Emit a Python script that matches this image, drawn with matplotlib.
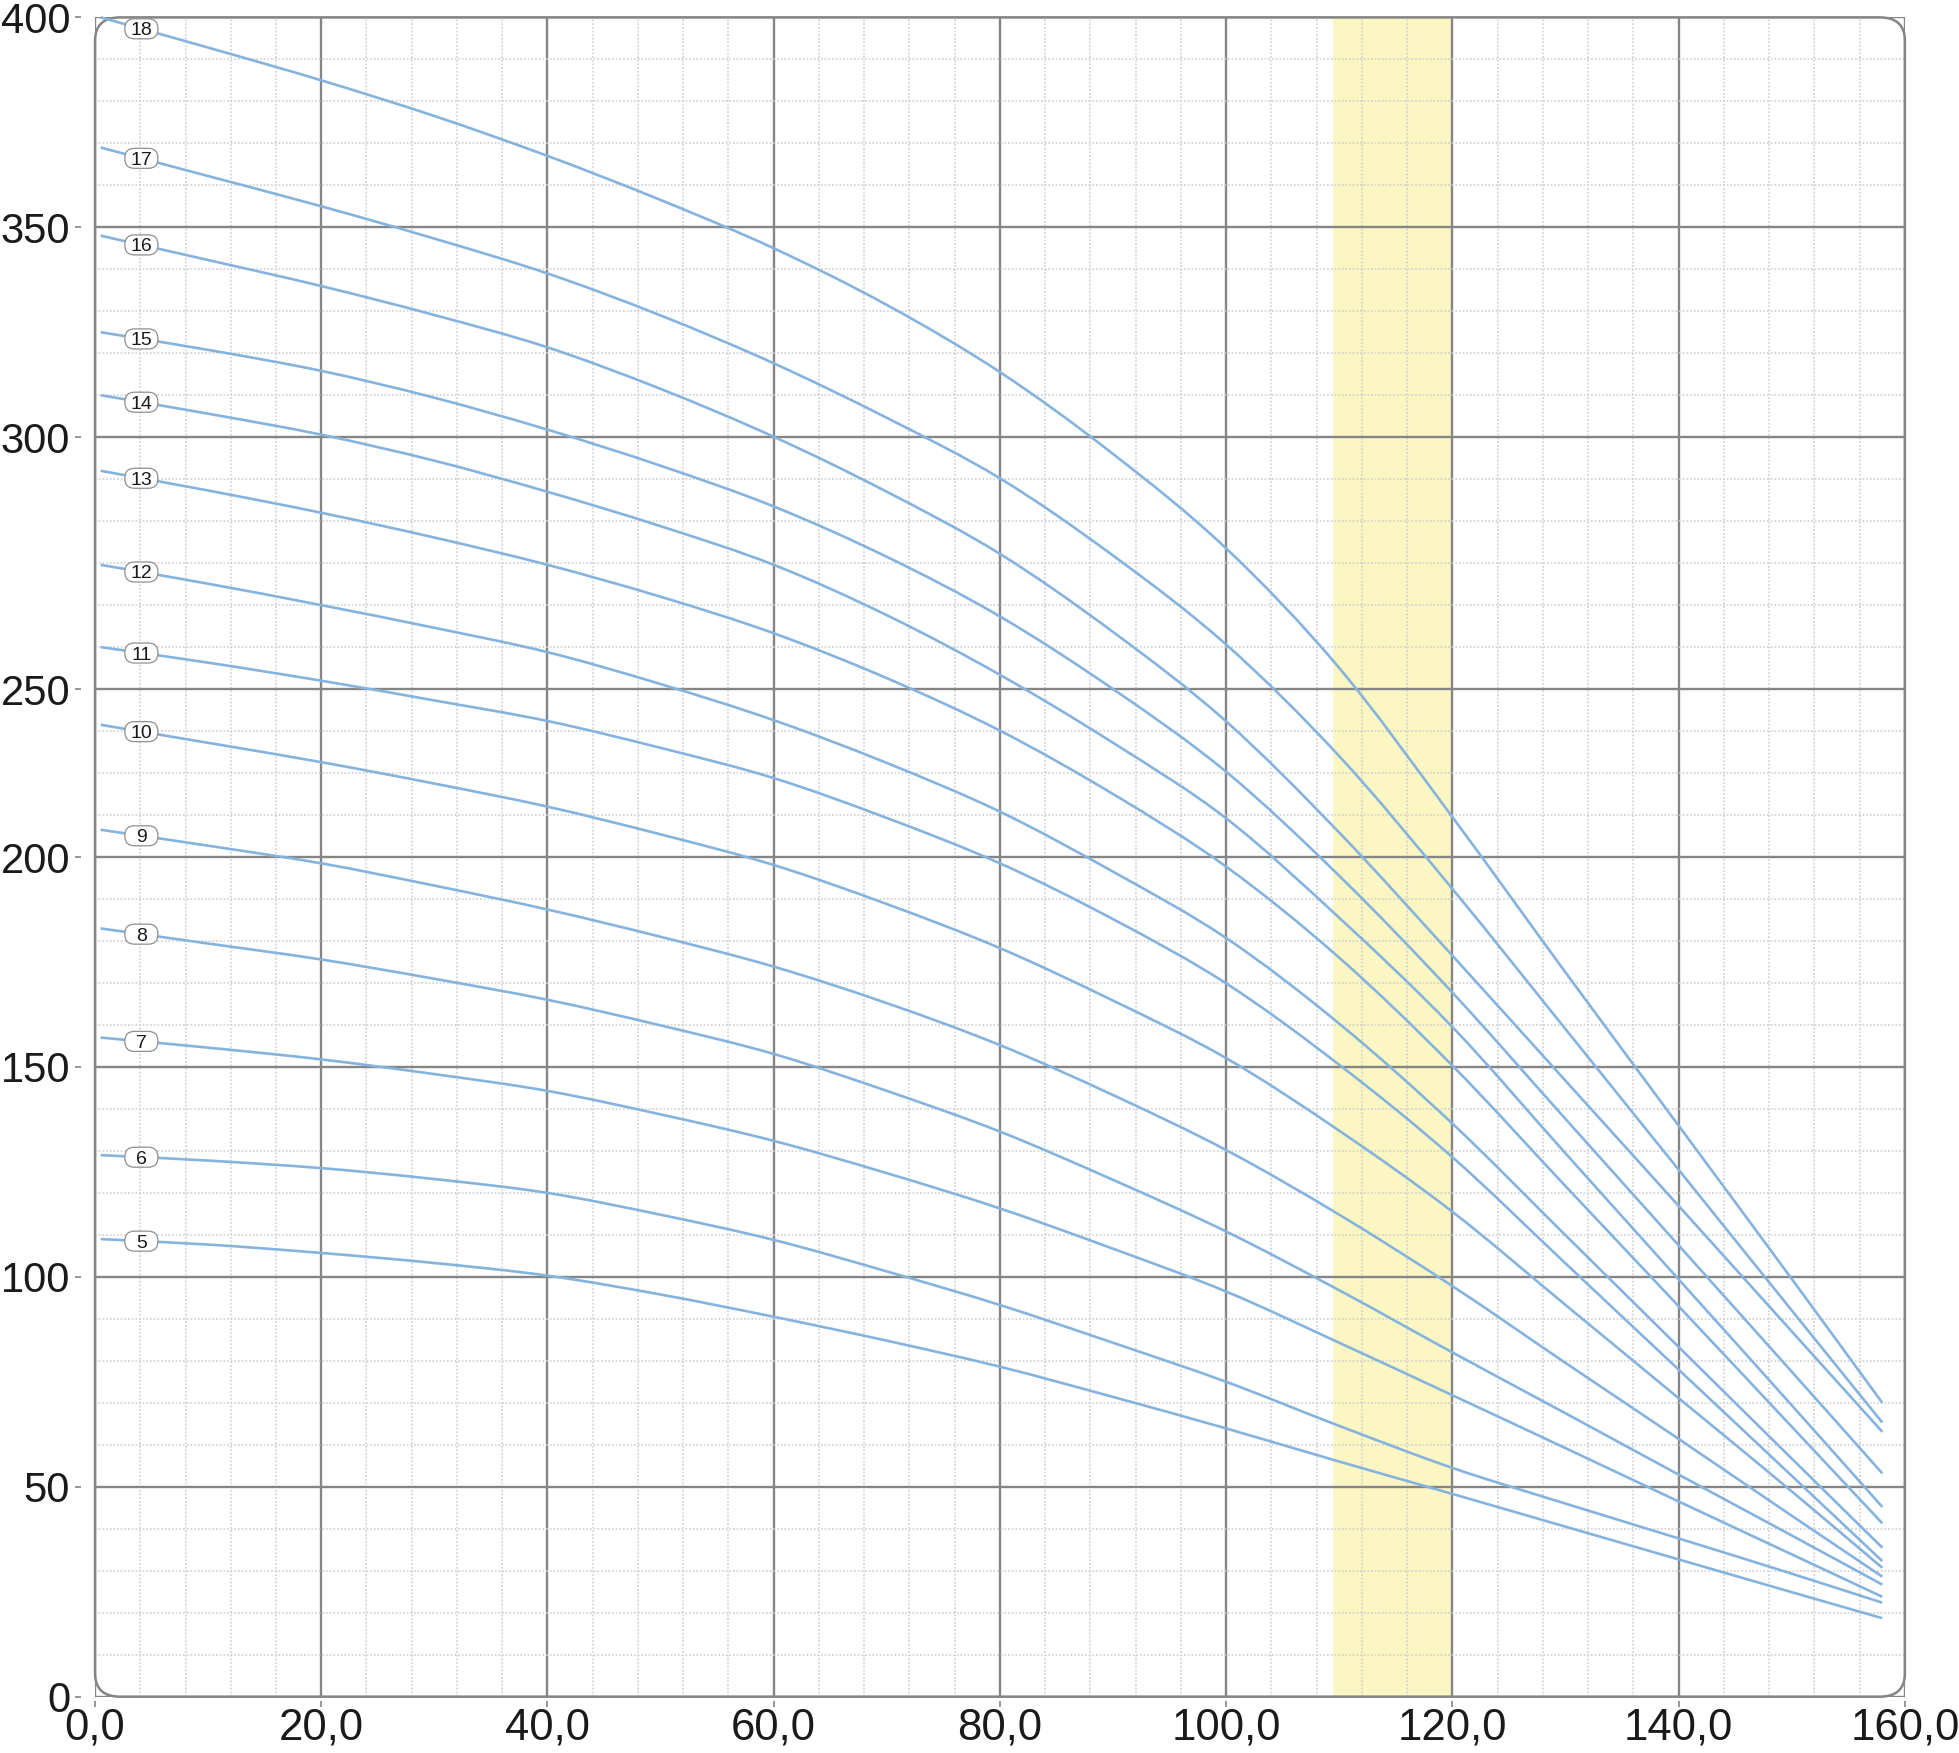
import numpy as np
import matplotlib
matplotlib.use('Agg')
import matplotlib.pyplot as plt
from matplotlib.patches import FancyBboxPatch, PathPatch
from matplotlib.path import Path
from matplotlib.ticker import MultipleLocator, FixedLocator

plt.rcParams['font.family'] = ['Liberation Sans', 'DejaVu Sans']

# caudal (eje x) donde se leyeron las curvas
caudal = [0.5, 10, 20, 30, 40, 50, 60, 70, 80, 90, 100, 110, 120, 130, 140, 150, 158]

# altura para cada numero de etapas
etapas_18 = [400, 392.8, 385, 376.5, 367, 356.5, 345, 331.5, 315.5, 296, 273.5, 245, 209.5, 172.5, 136, 99.5, 70]
etapas_17 = [369, 362.2, 355, 347.3, 339, 329, 317.6, 304.6, 290.2, 271.8, 250.6, 224, 192.4, 159, 125.5, 92, 65.3]
etapas_16 = [348, 342.2, 336, 329.1, 321.4, 311.5, 300.1, 287, 272.2, 253.6, 232.3, 205.8, 176.5, 146.7, 116.9, 87, 63.1]
etapas_15 = [325, 320.8, 315.8, 309.4, 301.8, 293.2, 283.5, 271.5, 257.3, 240, 220.3, 195.5, 167.7, 137.6, 107.5, 77.4, 53.2]
etapas_14 = [310, 305.6, 300.6, 294.4, 287, 278.8, 269.6, 257.6, 243.4, 227.2, 209.2, 185.5, 159.5, 129.4, 99.4, 69.4, 45.2]
etapas_13 = [292, 287.3, 282, 276.1, 269.6, 262, 253.3, 242.6, 230.1, 215, 197.7, 176, 150.3, 121.6, 93, 64.3, 41.3]
etapas_12 = [269.6, 265.1, 260, 254.6, 248.8, 241.2, 232.6, 222.4, 210.8, 196.5, 180.7, 160.3, 136.5, 109.9, 83.3, 56.7, 35.5]
etapas_11 = [250, 246.3, 242, 237.3, 232.4, 226, 218.8, 209.3, 198.5, 185.2, 169.9, 150.5, 128.5, 103.2, 77.9, 52.6, 32.3]
etapas_10 = [231.5, 227.2, 222.6, 217.5, 212, 205.4, 198.1, 188.8, 178.3, 165.8, 152.1, 134.8, 115.5, 93.3, 71.1, 48.9, 30.7]
etapas_9 = [206.5, 202.7, 198.5, 193.2, 187.5, 181, 173.9, 165.2, 155.2, 143.3, 130.2, 114.8, 97.8, 79.5, 61.4, 43.1, 28.6]
etapas_8 = [183, 179.4, 175.6, 171, 166, 159.9, 153.1, 144.3, 134.6, 123.1, 110.8, 96.8, 82, 67.5, 52.9, 38.4, 26.7]
etapas_7 = [157, 154.6, 151.8, 148.3, 144.3, 138.7, 132.4, 124.7, 116.3, 106.7, 96.5, 84.3, 71.8, 59.2, 46.5, 33.9, 23.8]
etapas_6 = [129, 127.7, 125.9, 123.3, 120, 114.8, 108.8, 101.3, 93.3, 84.3, 75, 64.5, 54.5, 46, 37.7, 29.3, 22.4]
etapas_5 = [109, 107.7, 105.7, 103.3, 100.3, 95.8, 90.5, 84.8, 78.6, 71.4, 63.9, 56, 48.3, 40.5, 32.7, 24.9, 18.7]

curvas = {
    18: etapas_18, 17: etapas_17, 16: etapas_16, 15: etapas_15, 14: etapas_14,
    13: etapas_13, 12: etapas_12, 11: etapas_11, 10: etapas_10, 9: etapas_9,
    8: etapas_8, 7: etapas_7, 6: etapas_6, 5: etapas_5,
}

x_ticks = [0, 20, 40, 60, 80, 100, 120, 140, 160]
x_labels = ['0,0', '20,0', '40,0', '60,0', '80,0', '100,0', '120,0', '140,0', '160,0']
# la linea rotulada 250 esta en realidad a 240 en el original
y_ticks = [0, 50, 100, 150, 200, 240, 300, 350, 400]
y_labels = ['0', '50', '100', '150', '200', '250', '300', '350', '400']

zona_min, zona_max = 109.4, 120.0
x_etiqueta = 4.1

color_curva = '#86b3de'
gris = '#858585'


def trazo_suave(xs, ys):
    """Curva suave (Bezier cubica) que pasa por los puntos leidos."""
    xs = np.asarray(xs, dtype=float)
    ys = np.asarray(ys, dtype=float)
    m = np.gradient(ys, xs)
    verts = [(xs[0], ys[0])]
    codes = [Path.MOVETO]
    for i in range(len(xs) - 1):
        h = xs[i + 1] - xs[i]
        verts += [(xs[i] + h / 3, ys[i] + m[i] * h / 3),
                  (xs[i + 1] - h / 3, ys[i + 1] - m[i + 1] * h / 3),
                  (xs[i + 1], ys[i + 1])]
        codes += [Path.CURVE4] * 3
    return Path(verts, codes)


fig = plt.figure(figsize=(19.59, 17.53), dpi=100)
ax = fig.add_axes([0.0485, 0.0321, 0.9239, 0.958])
ax.set_xlim(0, 160)
ax.set_ylim(0, 400)

# pixeles por unidad de dato, para dibujar las etiquetas con forma de pildora
pos = ax.get_position()
px_x = pos.width * fig.get_figwidth() * fig.dpi / 160
px_y = pos.height * fig.get_figheight() * fig.dpi / 400

# zona recomendada
ax.axvspan(zona_min, zona_max, color='#fcf7c2', zorder=0, lw=0)

# grillas
ax.xaxis.set_major_locator(FixedLocator(x_ticks))
ax.yaxis.set_major_locator(FixedLocator(y_ticks))
ax.xaxis.set_minor_locator(MultipleLocator(4))
ax.yaxis.set_minor_locator(MultipleLocator(10))
ax.set_xticklabels(x_labels)
ax.set_yticklabels(y_labels)
ax.set_axisbelow(True)
ax.grid(which='major', color=gris, lw=1.7, zorder=1)
ax.grid(which='minor', color='#cfcfcf', lw=1.1, ls=(0, (1.2, 1.2)), zorder=0.5)

for s in ax.spines.values():
    s.set_visible(False)
ax.spines['left'].set_position(('outward', 10))
ax.spines['bottom'].set_position(('outward', 3))

ax.tick_params(which='major', length=4, width=1.2, color=gris, labelcolor='#1a1a1a')
ax.tick_params(axis='x', pad=1, labelsize=31.5)
ax.tick_params(axis='y', pad=4, labelsize=30)
ax.tick_params(which='minor', length=0)

# marco redondeado
marco = FancyBboxPatch((0, 0), 1, 1, boxstyle='round,pad=0,rounding_size=0.014',
                       transform=ax.transAxes, fill=False, ec=gris, lw=1.8, zorder=3, clip_on=False)
ax.add_patch(marco)

ancho_et = 33 / px_x
alto_et = 20 / px_y
for n, valores in curvas.items():
    ax.add_patch(PathPatch(trazo_suave(caudal, valores), fill=False, ec=color_curva, lw=1.9,
                           zorder=4, clip_on=False, capstyle='butt'))
    y_et = np.interp(x_etiqueta, caudal, valores)
    caja = FancyBboxPatch((x_etiqueta - ancho_et / 2, y_et - alto_et / 2), ancho_et, alto_et,
                          boxstyle='round,pad=0,rounding_size=%.3f' % (9.5 / px_x),
                          mutation_aspect=px_x / px_y, fc='white', ec='#8f8f8f', lw=0.9, zorder=5)
    ax.add_patch(caja)
    ax.text(x_etiqueta, y_et, str(n), fontsize=14, ha='center', va='center_baseline',
            color='#1a1a1a', zorder=6)

fig.savefig('out.png', dpi=100)
